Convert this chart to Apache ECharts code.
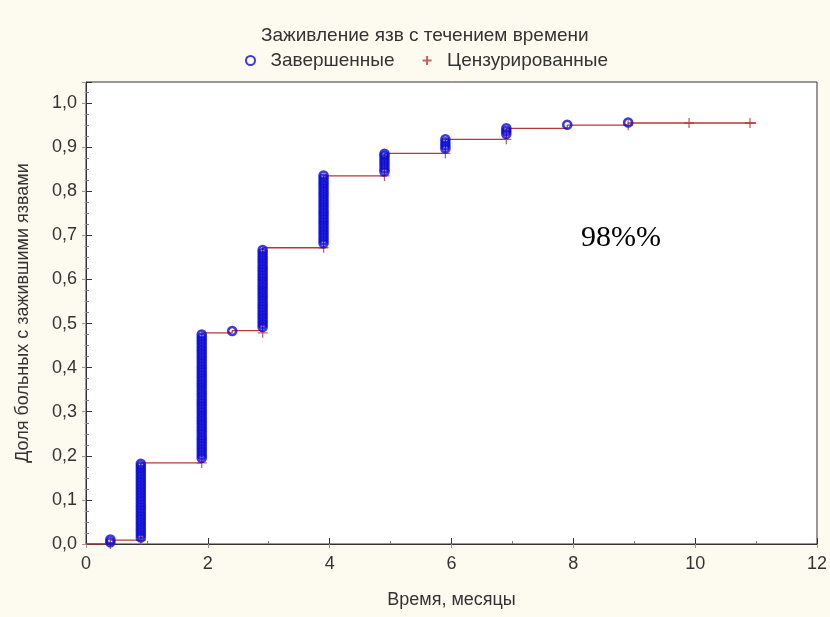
<!DOCTYPE html>
<html>
<head>
<meta charset="utf-8">
<script src="https://cdn.jsdelivr.net/npm/echarts@6/dist/echarts.min.js"></script>
<style>
html,body{margin:0;padding:0;background:#fdfaf0;}
#c{width:830px;height:617px;}
</style>
</head>
<body>
<div id="c"></div>
<script>
// Kaplan-Meier step curve (time in months, share healed)
var stepTimes  = [0, 0.4, 0.9, 1.9, 2.4, 2.9, 3.9, 4.9, 5.9, 6.9, 7.9, 8.9, 11];
var stepValues = [0, 0.009, 0.184, 0.479, 0.484, 0.672, 0.835, 0.886, 0.918, 0.943, 0.950, 0.955, 0.955];

// Completed events (circles): time and the values stacked at that time
var completedTimes = [0.4, 0.9, 1.9, 2.4, 2.9, 3.9, 4.9, 5.9, 6.9, 7.9, 8.9];
var completedValues = [
  [0.004, 0.010],
  [0.015,0.022,0.029,0.036,0.043,0.050,0.057,0.064,0.071,0.078,0.085,0.092,0.099,0.106,0.113,0.120,0.127,0.134,0.141,0.148,0.155,0.162,0.169,0.176,0.182],
  [0.195,0.202,0.209,0.216,0.223,0.230,0.237,0.244,0.251,0.258,0.265,0.272,0.279,0.286,0.293,0.300,0.307,0.314,0.321,0.328,0.335,0.342,0.349,0.356,0.363,0.370,0.377,0.384,0.391,0.398,0.405,0.412,0.419,0.426,0.433,0.440,0.447,0.454,0.461,0.468,0.475],
  [0.483],
  [0.492,0.499,0.506,0.513,0.520,0.527,0.534,0.541,0.548,0.555,0.562,0.569,0.576,0.583,0.590,0.597,0.604,0.611,0.618,0.625,0.632,0.639,0.646,0.653,0.660,0.667],
  [0.682,0.689,0.696,0.703,0.710,0.717,0.724,0.731,0.738,0.745,0.752,0.759,0.766,0.773,0.780,0.787,0.794,0.801,0.808,0.815,0.822,0.829,0.836],
  [0.845,0.852,0.859,0.866,0.873,0.880,0.885],
  [0.897,0.904,0.911,0.918],
  [0.930,0.937,0.943],
  [0.951],
  [0.956]
];

// Censored observations (crosses)
var censoredTimes  = [0.4, 0.9, 1.9, 2.9, 3.9, 4.9, 5.9, 6.9, 8.9, 9.9, 10.9];
var censoredValues = [0.0, 0.009, 0.184, 0.479, 0.672, 0.835, 0.886, 0.918, 0.950, 0.955, 0.955];

var xTicks = [0, 2, 4, 6, 8, 10, 12];
var yTicks = [0, 0.1, 0.2, 0.3, 0.4, 0.5, 0.6, 0.7, 0.8, 0.9, 1.0];

var titleText = 'Заживление язв с течением времени';
var seriesNames = ['Завершенные', 'Цензурированные'];
var xName = 'Время, месяцы';
var yName = 'Доля больных с зажившими язвами';
var noteText = '98%%';

var stepData = stepTimes.map(function (t, i) { return [t, stepValues[i]]; });
var completedData = [];
completedTimes.forEach(function (t, i) {
  completedValues[i].forEach(function (v) { completedData.push([t, v]); });
});
var censoredData = censoredTimes.map(function (t, i) { return [t, censoredValues[i]]; });

var FONT = '"Liberation Sans", Arial, sans-serif';
var TXT = '#333333';
var BLUE = '#0a0ad8';
var RED = '#b8383a';
var PLUS = 'path://M5,0L5,10M0,5L10,5';

function yFmt(v) {
  var k = Math.round(v * 10);
  if (Math.abs(v * 10 - k) > 1e-6 || v > 1.0001) return '';
  return (k / 10).toFixed(1).replace('.', ',');
}

var chart = echarts.init(document.getElementById('c'), null, {renderer: 'canvas'});
chart.setOption({
  backgroundColor: '#fdfaf0',
  animation: false,
  title: {
    text: titleText,
    left: 256, top: 21,
    textStyle: {fontFamily: FONT, fontSize: 19, fontWeight: 'normal', color: TXT}
  },
  legend: {
    left: 240, top: 46,
    itemWidth: 30, itemHeight: 9, itemGap: 27,
    textStyle: {fontFamily: FONT, fontSize: 19, color: TXT},
    data: seriesNames
  },
  grid: {left: 86, right: 10, top: 82, bottom: 73, show: true, backgroundColor: '#ffffff', borderColor: '#333', borderWidth: 1},
  xAxis: [{
    type: 'value', min: xTicks[0], max: xTicks[xTicks.length - 1], interval: 2,
    name: xName, nameLocation: 'middle', nameGap: 47,
    nameTextStyle: {fontFamily: FONT, fontSize: 18, color: TXT},
    axisLine: {show: true, lineStyle: {color: '#333', width: 1}},
    axisTick: {show: true, inside: true, length: 6, lineStyle: {color: '#333'}},
    minorTick: {show: true, splitNumber: 2, length: 3, lineStyle: {color: '#777'}},
    splitLine: {show: false},
    axisLabel: {fontFamily: FONT, fontSize: 18, color: TXT, margin: 11}
  }, {
    type: 'value', position: 'top', min: 0, max: 12, interval: 2,
    axisLine: {show: false}, axisLabel: {show: false}, splitLine: {show: false},
    axisTick: {show: true, inside: true, length: 4, lineStyle: {color: '#999'}}
  }],
  yAxis: [{
    type: 'value', min: 0, max: 1.048, interval: 0.1,
    name: yName, nameLocation: 'middle', nameGap: 54, nameRotate: 90,
    nameTextStyle: {fontFamily: FONT, fontSize: 18, color: TXT},
    axisLine: {show: true, lineStyle: {color: '#333', width: 1}},
    axisTick: {show: true, inside: true, length: 6, lineStyle: {color: '#333'}},
    minorTick: {show: true, splitNumber: 4, length: 3, lineStyle: {color: '#777'}},
    splitLine: {show: false},
    axisLabel: {fontFamily: FONT, fontSize: 18, color: TXT, margin: 9, formatter: yFmt}
  }, {
    type: 'value', position: 'right', min: 0, max: 1.048, interval: 0.1,
    axisLine: {show: false}, axisLabel: {show: false}, splitLine: {show: false},
    axisTick: {show: true, inside: true, length: 4, lineStyle: {color: '#999'}},
    minorTick: {show: true, splitNumber: 4, length: 2, lineStyle: {color: '#bbb'}}
  }],
  graphic: [{
    type: 'text', left: 581, top: 223, z: 100,
    style: {text: noteText, font: '30px "Liberation Serif", "Times New Roman", serif', fill: '#000'}
  }],
  series: [{
    type: 'line', step: 'end', data: stepData, symbol: 'none', silent: true,
    lineStyle: {color: RED, width: 1.3}, z: 2
  }, {
    name: seriesNames[1], type: 'scatter', data: censoredData,
    symbol: PLUS, symbolSize: 10,
    itemStyle: {color: 'rgba(0,0,0,0)', borderColor: RED, borderWidth: 1.3}, z: 3
  }, {
    name: seriesNames[0], type: 'scatter', data: completedData,
    symbol: 'circle', symbolSize: 8,
    itemStyle: {color: 'rgba(0,0,0,0)', borderColor: BLUE, borderWidth: 2.6}, z: 4
  }]
});
</script>
</body>
</html>
